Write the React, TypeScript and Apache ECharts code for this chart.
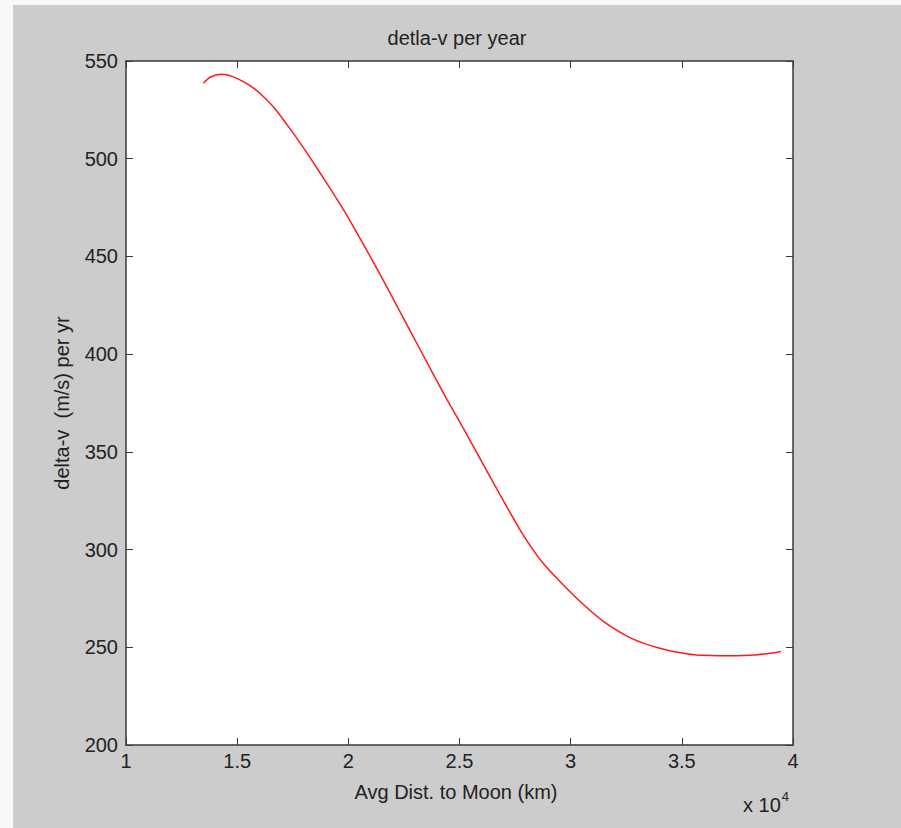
import React, { useEffect, useRef } from "react";
import * as echarts from "echarts";

// Average distance to Moon (km)
const distKm = [
  13480, 13800, 14300, 14800, 15300, 15800, 16200, 16700, 17400, 18000,
  18600, 19200, 19800, 20200, 21000, 21600, 22800, 23800, 24450, 25200,
  26550, 27750, 28300, 28800, 29550, 30450, 31500, 32550, 33300, 34050,
  34800, 35550, 36300, 37050, 37800, 38400, 39000, 39460,
];
// delta-v (m/s) per yr
const deltaV = [
  538.6, 541.8, 543.2, 542.0, 539.3, 535.6, 531.6, 525.6, 515.0, 505.3,
  495.0, 484.4, 473.6, 465.8, 449.6, 437.2, 411.5, 390.2, 376.5, 361.5,
  333.6, 309.6, 300.0, 292.5, 283.3, 273.2, 263.0, 255.6, 252.0, 249.4,
  247.5, 246.2, 245.8, 245.7, 245.8, 246.2, 246.9, 247.8,
];

const titleText = "detla-v per year";
const xName = "Avg Dist. to Moon (km)";
const yName = "delta-v  (m/s) per yr";
const xMin = 10000;
const xMax = 40000;
const xStep = 5000;
const yMin = 200;
const yMax = 550;
const yStep = 50;

const FONT = "'Liberation Sans', Arial, sans-serif";
const TXT = "#222222";
const AX = "#3a3a3a";

export default function App() {
  const ref = useRef<HTMLDivElement>(null);
  useEffect(() => {
    if (!ref.current) return;
    const chart = echarts.init(ref.current, null, { renderer: "svg" });
    const pts = distKm.map((d, i) => [d, deltaV[i]]);
    const axisCommon = {
      axisLine: { show: true, onZero: false, lineStyle: { color: AX, width: 1.5 } },
      axisTick: { show: true, inside: true, length: 7, lineStyle: { color: AX, width: 1 } },
      splitLine: { show: false },
    };
    chart.setOption({
      animation: false,
      backgroundColor: "#cccccc",
      textStyle: { fontFamily: FONT },
      title: {
        text: titleText,
        left: "center",
        top: 18,
        textStyle: { fontFamily: FONT, fontSize: 20, fontWeight: "normal", color: TXT },
      },
      grid: {
        left: 113,
        top: 56,
        right: 108,
        bottom: 83,
        show: true,
        backgroundColor: "#ffffff",
        borderWidth: 0,
      },
      xAxis: [
        {
          type: "value",
          min: xMin,
          max: xMax,
          interval: xStep,
          position: "bottom",
          ...axisCommon,
          axisLabel: {
            margin: 6,
            fontSize: 20,
            color: TXT,
            fontFamily: FONT,
            formatter: (v: number) => String(v / 10000),
          },
        },
        {
          type: "value",
          min: xMin,
          max: xMax,
          interval: xStep,
          position: "top",
          ...axisCommon,
          axisLabel: { show: false },
        },
      ],
      yAxis: [
        {
          type: "value",
          min: yMin,
          max: yMax,
          interval: yStep,
          position: "left",
          ...axisCommon,
          axisLabel: { margin: 8, fontSize: 20, color: TXT, fontFamily: FONT },
        },
        {
          type: "value",
          min: yMin,
          max: yMax,
          interval: yStep,
          position: "right",
          ...axisCommon,
          axisLabel: { show: false },
        },
      ],
      graphic: [
        {
          type: "text",
          x: 443,
          y: 787,
          style: {
            text: xName,
            fontSize: 20,
            fontFamily: FONT,
            fill: TXT,
            align: "center",
            verticalAlign: "middle",
          },
        },
        {
          type: "text",
          x: 49,
          y: 398,
          rotation: Math.PI / 2,
          style: {
            text: yName,
            fontSize: 20,
            fontFamily: FONT,
            fill: TXT,
            align: "center",
            verticalAlign: "middle",
          },
        },
        {
          type: "text",
          x: 730,
          y: 797,
          style: {
            text: "{b|x 10}{s|4}",
            fontFamily: FONT,
            fill: TXT,
            align: "left",
            verticalAlign: "middle",
            rich: {
              b: { fontSize: 20, fontFamily: FONT, fill: TXT, verticalAlign: "bottom" },
              s: { fontSize: 13, fontFamily: FONT, fill: TXT, verticalAlign: "top", padding: [0, 0, 12, 1] },
            },
          },
        },
      ],
      series: [
        {
          type: "line",
          data: pts,
          xAxisIndex: 0,
          yAxisIndex: 0,
          showSymbol: false,
          smooth: 0.25,
          lineStyle: { color: "#ff1a1a", width: 1.5 },
        },
      ],
    });
    return () => chart.dispose();
  }, []);
  return (
    <div style={{ position: "fixed", left: 0, top: 0, width: 901, height: 828, background: "#f8f8f8" }}>
      <div ref={ref} style={{ position: "absolute", left: 13, top: 5, width: 888, height: 823 }} />
    </div>
  );
}
